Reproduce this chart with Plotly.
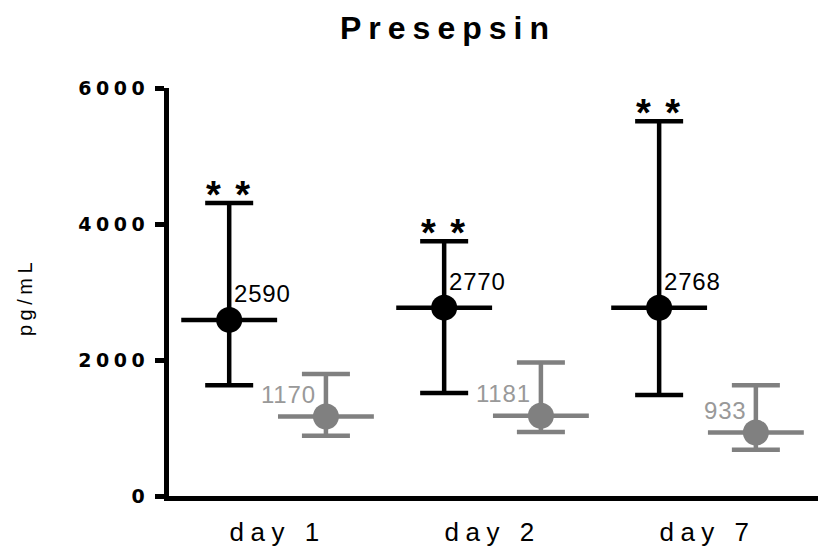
import plotly.graph_objects as go

categories = ["day 1", "day 2", "day 7"]
black_median = [2590, 2770, 2768]
black_upper = [4310, 3745, 5510]
black_lower = [1630, 1515, 1485]
gray_median = [1170, 1181, 933]
gray_upper = [1795, 1965, 1630]
gray_lower = [885, 940, 680]
stars = ["* *", "* *", "* *"]
y_ticks = [0, 2000, 4000, 6000]

x_idx = list(range(len(categories)))
off = 0.225
xb = [i - off for i in x_idx]
xg = [i + off for i in x_idx]

BLACK = "#000000"
GRAY = "#808080"
GRAY_TXT = "#999999"
FONT = "Liberation Sans, Arial, sans-serif"

def spaced(t, px):
    return f'<span style="letter-spacing:{px}px">{t}</span>'

fig = go.Figure()

def add_series(xs, med, up, lo, color):
    fig.add_trace(go.Scatter(
        x=xs, y=med, mode="markers",
        marker=dict(color=color, size=26, line=dict(width=0)),
        error_y=dict(type="data", symmetric=False,
                     array=[u - m for u, m in zip(up, med)],
                     arrayminus=[m - l for m, l in zip(med, lo)],
                     color=color, thickness=4.5, width=24),
        error_x=dict(type="constant", value=0.223, color=color,
                     thickness=4.5, width=0),
        showlegend=False, hoverinfo="skip", cliponaxis=False,
    ))

add_series(xb, black_median, black_upper, black_lower, BLACK)
add_series(xg, gray_median, gray_upper, gray_lower, GRAY)

annotations = []
for x, m in zip(xb, black_median):
    annotations.append(dict(x=x, y=m, xref="x", yref="y", text=spaced(str(m), 0.8),
                            showarrow=False, xanchor="left", yanchor="middle",
                            xshift=3, yshift=26,
                            font=dict(family=FONT, size=24, color=BLACK)))
for x, m in zip(xg, gray_median):
    annotations.append(dict(x=x, y=m, xref="x", yref="y", text=spaced(str(m), 0.8),
                            showarrow=False, xanchor="right", yanchor="middle",
                            xshift=-8, yshift=22,
                            font=dict(family=FONT, size=24, color=GRAY_TXT)))
for x, u, s in zip(xb, black_upper, stars):
    annotations.append(dict(x=x, y=u, xref="x", yref="y", text=spaced(s, 2),
                            showarrow=False, xanchor="center", yanchor="bottom",
                            yshift=-15,
                            font=dict(family=FONT, size=38, color=BLACK, weight="bold")))

annotations.append(dict(x=0, y=(496 - 297) / 408, xref="paper", yref="paper",
                        text=spaced("pg/mL", 4.5), textangle=-90, showarrow=False,
                        xanchor="center", yanchor="middle", xshift=-144,
                        font=dict(family=FONT, size=20, color=BLACK)))

fig.update_layout(
    width=818, height=555,
    margin=dict(l=169, r=0, t=88, b=59, pad=0),
    paper_bgcolor="white", plot_bgcolor="white",
    title=dict(text=spaced("Presepsin", 7), x=448 / 818, xref="container", xanchor="center",
               y=1 - 28 / 555, yref="container", yanchor="middle",
               font=dict(family=FONT, size=32, color=BLACK, weight="bold")),
    xaxis=dict(range=[-0.505, 2.514], tickvals=x_idx,
               ticktext=[spaced(c, 6.5) for c in categories],
               showgrid=False, zeroline=False, showline=True, linecolor=BLACK,
               linewidth=5, ticks="", ticklabelstandoff=9,
               tickfont=dict(family=FONT, size=26, color=BLACK)),
    yaxis=dict(range=[0, 6000], tickvals=y_ticks,
               ticktext=[spaced(str(v), 4.5) for v in y_ticks],
               showgrid=False, zeroline=False, showline=True, linecolor=BLACK,
               linewidth=5, ticks="outside", ticklen=9, tickwidth=4.5, tickcolor=BLACK,
               ticklabelstandoff=2,
               tickfont=dict(family="DejaVu Sans, sans-serif", size=19, color=BLACK,
                             weight="bold")),
    annotations=annotations,
)

fig.write_html("out.html")
